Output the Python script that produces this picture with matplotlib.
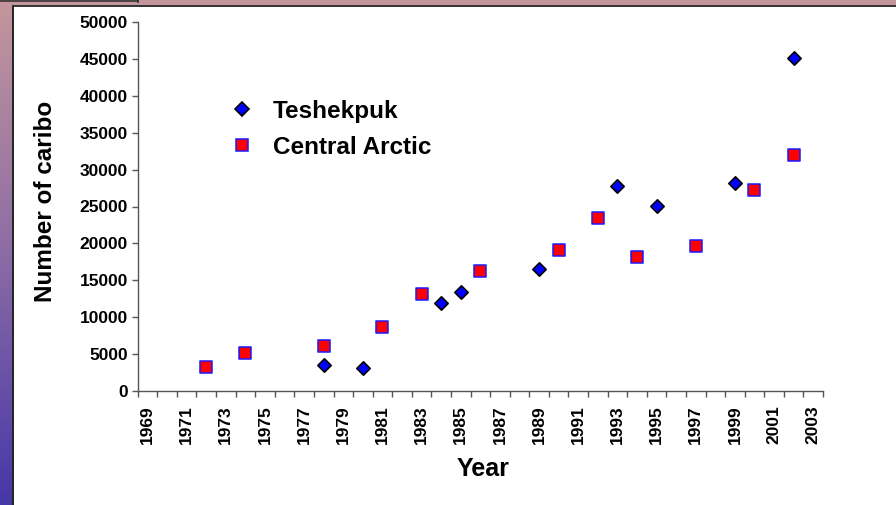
import numpy as np
import matplotlib
matplotlib.use('Agg')
import matplotlib.pyplot as plt
from matplotlib.lines import Line2D
from matplotlib.transforms import Bbox, TransformedBbox

#values
tesh_years = [1978, 1980, 1984, 1985, 1989, 1993, 1995, 1999, 2002]
tesh_counts = [3500, 3100, 11900, 13400, 16500, 27800, 25100, 28200, 45100]

ca_years = [1972, 1974, 1978, 1981, 1983, 1986, 1990, 1992, 1994, 1997, 2000, 2002]
ca_counts = [3200, 5200, 6100, 8700, 13100, 16200, 19100, 23400, 18200, 19700, 27200, 32000]

first_year = 1969
last_year = 2003
y_ticks = list(range(0, 50001, 5000))
label_years = list(range(1969, 2004, 2))

W, H = 896, 505
fig = plt.figure(figsize=(W / 100, H / 100), dpi=100)
plt.rcParams['font.family'] = ['Liberation Sans', 'DejaVu Sans']

#background: purple gradient strip on the left and mauve strip on top
bg = fig.add_axes([0, 0, 1, 1])
bg.set_axis_off()
top_col = np.array([196, 150, 156]) / 255
mid_col = np.array([140, 108, 165]) / 255
bot_col = np.array([70, 55, 168]) / 255
t = np.linspace(0, 1, 200)[:, None]
grad = np.where(t < 0.5, top_col + (mid_col - top_col) * (t / 0.5),
                mid_col + (bot_col - mid_col) * ((t - 0.5) / 0.5))
bg.imshow(grad[:, None, :], aspect='auto', extent=[0, W, H, 0])
bg.set_xlim(0, W)
bg.set_ylim(H, 0)
#white content panel with dark border
bg.add_patch(plt.Rectangle((13, 5.5), W - 13, H, facecolor='white', edgecolor='none'))
bg.plot([13, 13], [5.5, H], color='#222222', lw=1.4)
bg.plot([13, W], [5.5, 5.5], color='#333333', lw=1.4)
bg.plot([0, 138], [1.2, 1.2], color='#333333', lw=1.2)
bg.plot([138, 138], [0, 1.5], color='#333333', lw=1.2)

#main plot area
ax = fig.add_axes([137.7 / W, 1 - 391 / H, (823 - 137.7) / W, (391 - 22) / H])
ax.patch.set_alpha(0)

ax.scatter(tesh_years, tesh_counts, marker='D', s=6.8 ** 2, facecolor='#0000ff',
           edgecolor='black', linewidths=1.2, zorder=3, clip_on=False)
ax.scatter(ca_years, ca_counts, marker='s', s=8.3 ** 2, facecolor='#ff0000',
           edgecolor='#1a1aff', linewidths=1.1, zorder=3, clip_on=False)

ax.set_xlim(first_year - 0.5, last_year + 0.5)
ax.set_ylim(0, 50000)
ax.set_yticks(y_ticks)
ax.set_yticklabels([str(v) for v in y_ticks], fontsize=12.5, fontweight='bold')
ax.set_xticks(np.arange(first_year - 0.5, last_year + 1, 1))
ax.set_xticklabels([])
ax.set_xticks(label_years, minor=True)
ax.set_xticklabels([str(y) for y in label_years], minor=True, rotation=90,
                   fontsize=12.5, fontweight='bold')
ax.tick_params(axis='x', which='minor', length=0, pad=10)
ax.tick_params(axis='both', which='major', direction='out', length=4,
               width=1, color='#555555')
ax.tick_params(axis='y', pad=3)
for s in ['top', 'right']:
    ax.spines[s].set_visible(False)
for s in ['left', 'bottom']:
    ax.spines[s].set_color('#555555')
    ax.spines[s].set_linewidth(1)

#axis titles
fig.text(483 / W, 1 - 469 / H, 'Year', ha='center', va='center',
         fontsize=18, fontweight='bold')
ylab = fig.text(46 / W, 1 - 194 / H, 'Number of caribou', ha='center', va='center',
                rotation=90, fontsize=17.5, fontweight='bold')
ylab.set_clip_box(TransformedBbox(Bbox([[0, 0], [1, 1 - 102 / H]]), fig.transFigure))
ylab.set_clip_on(True)

#legend without frame
handles = [
    Line2D([], [], ls='none', marker='D', ms=6.8, mfc='#0000ff', mec='black', mew=1.2),
    Line2D([], [], ls='none', marker='s', ms=8.3, mfc='#ff0000', mec='#1a1aff', mew=1.1),
]
leg = ax.legend(handles, ['Teshekpuk', 'Central Arctic'], loc='upper left',
                bbox_to_anchor=(214 / W, 1 - 90 / H), bbox_transform=fig.transFigure,
                frameon=False, prop={'size': 17.5, 'weight': 'bold'},
                handletextpad=0.53, labelspacing=0.53, handlelength=1.5, borderaxespad=0)

fig.savefig('out.png', dpi=100)
